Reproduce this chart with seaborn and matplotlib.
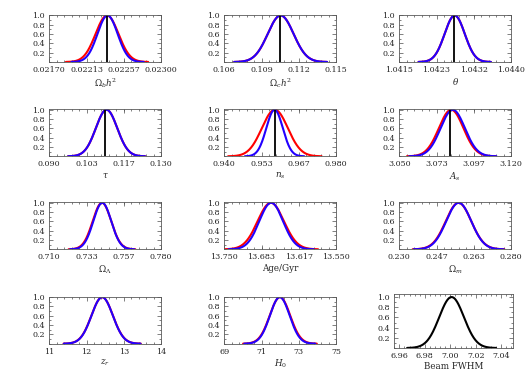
import numpy as np
import pandas as pd
import matplotlib
matplotlib.use('Agg')
import matplotlib.pyplot as plt
import seaborn as sns
from matplotlib.ticker import AutoMinorLocator, FixedLocator, FixedFormatter

# parameter panels
etiketler = [r'$\Omega_b h^2$', r'$\Omega_c h^2$', r'$\theta$', r'$\tau$',
             r'$n_s$', r'$A_s$', r'$\Omega_\Lambda$', 'Age/Gyr',
             r'$\Omega_m$', r'$z_r$', r'$H_0$', 'Beam FWHM']
x_araliklari = [(0.02170, 0.02300), (0.106, 0.115), (1.0415, 1.0440),
                (0.090, 0.130), (0.940, 0.980), (3.050, 3.120),
                (0.710, 0.780), (13.750, 13.550), (0.230, 0.280),
                (11, 14), (69, 75), (6.956, 7.049)]
tik_degerleri = [[0.02170, 0.022133, 0.022567, 0.02300],
                 [0.106, 0.109, 0.112, 0.115],
                 [1.0415, 1.042333, 1.043167, 1.0440],
                 [0.090, 0.10333, 0.11667, 0.130],
                 [0.940, 0.95333, 0.96667, 0.980],
                 [3.050, 3.07333, 3.09667, 3.120],
                 [0.710, 0.73333, 0.75667, 0.780],
                 [13.750, 13.68333, 13.61667, 13.550],
                 [0.230, 0.24667, 0.26333, 0.280],
                 [11, 12, 13, 14], [69, 71, 73, 75],
                 [6.96, 6.98, 7.00, 7.02, 7.04]]
tik_etiketleri = [['0.02170', '0.02213', '0.02257', '0.02300'],
                  ['0.106', '0.109', '0.112', '0.115'],
                  ['1.0415', '1.0423', '1.0432', '1.0440'],
                  ['0.090', '0.103', '0.117', '0.130'],
                  ['0.940', '0.953', '0.967', '0.980'],
                  ['3.050', '3.073', '3.097', '3.120'],
                  ['0.710', '0.733', '0.757', '0.780'],
                  ['13.750', '13.683', '13.617', '13.550'],
                  ['0.230', '0.247', '0.263', '0.280'],
                  ['11', '12', '13', '14'], ['69', '71', '73', '75'],
                  ['6.96', '6.98', '7.00', '7.02', '7.04']]

# red and blue posteriors: mean and width
kirmizi_ortalama = [0.022372, 0.11054, 1.04274, 0.1105, 0.9581, 3.0825,
                    0.7430, 13.6667, 0.2565, 12.42, 71.99, 7.001]
kirmizi_sigma = [0.000133, 0.00104, 0.000225, 0.00383, 0.00465, 0.0077,
                 0.0058, 0.0235, 0.0057, 0.288, 0.55, 0.0097]
mavi_ortalama = [0.022378, 0.11054, 1.04274, 0.1105, 0.9580, 3.0835,
                 0.7432, 13.6660, 0.2566, 12.42, 71.98]
mavi_sigma = [0.000117, 0.00104, 0.000225, 0.00383, 0.00295, 0.0076,
              0.0056, 0.0212, 0.0056, 0.286, 0.53]
# fiducial values (black lines, first two rows)
fiducial = [0.02237, 0.1105, 1.04273, 0.110, 0.958, 3.082]

sns.set_theme(style='ticks')
plt.rcParams['font.family'] = ['DejaVu Serif']
plt.rcParams['mathtext.fontset'] = 'dejavuserif'

fig = plt.figure(figsize=(5.25, 3.75), dpi=100)

sol_px = [49.3, 224.3, 399.3]
ust_px = [15, 109.3, 202.3, 296.7]


def egri(ortalama, sigma, n=200):
    x = np.linspace(ortalama - 3.6 * sigma, ortalama + 3.6 * sigma, n)
    return pd.DataFrame({'x': x, 'y': np.exp(-0.5 * ((x - ortalama) / sigma) ** 2)})


for i in range(12):
    satir, sutun = divmod(i, 3)
    if i == 11:
        sol, sag, ust, alt = 394.3, 512.7, 294, 348
    else:
        sol, ust = sol_px[sutun], ust_px[satir]
        sag, alt = sol + 111.7, ust + 47
    ax = fig.add_axes([sol / 525, 1 - alt / 375, (sag - sol) / 525, (alt - ust) / 375])

    if i < 11:
        sns.lineplot(data=egri(kirmizi_ortalama[i], kirmizi_sigma[i]), x='x', y='y',
                     color='#ff0000', lw=1.5, ax=ax, sort=False)
        sns.lineplot(data=egri(mavi_ortalama[i], mavi_sigma[i]), x='x', y='y',
                     color='#2200ff', lw=1.5, ax=ax, sort=False)
    else:
        sns.lineplot(data=egri(kirmizi_ortalama[i], kirmizi_sigma[i]), x='x', y='y',
                     color='black', lw=1.5, ax=ax, sort=False)
    if i < 6:
        ax.vlines(fiducial[i], 0, 1, color='black', lw=1.3)

    ax.set_xlim(*x_araliklari[i])
    ax.set_ylim(0, 1.06 if i == 11 else 1.01)
    ax.xaxis.set_major_locator(FixedLocator(tik_degerleri[i]))
    ax.xaxis.set_major_formatter(FixedFormatter(tik_etiketleri[i]))
    ax.set_yticks([0.2, 0.4, 0.6, 0.8, 1.0])
    ax.set_yticklabels(['0.2', '0.4', '0.6', '0.8', '1.0'])
    ax.xaxis.set_minor_locator(AutoMinorLocator(5))
    ax.yaxis.set_minor_locator(AutoMinorLocator(2))
    ax.tick_params(which='both', direction='in', top=True, right=True,
                   labelsize=5.8, width=0.5, color='0.3', pad=3)
    ax.tick_params(which='major', length=3)
    ax.tick_params(which='minor', length=1.5)
    for s in ax.spines.values():
        s.set_linewidth(0.6)
        s.set_color('0.35')
    ax.set_xlabel(etiketler[i], fontsize=6.3, labelpad=1.5)
    ax.set_ylabel('')

fig.savefig('out.png', dpi=100)
